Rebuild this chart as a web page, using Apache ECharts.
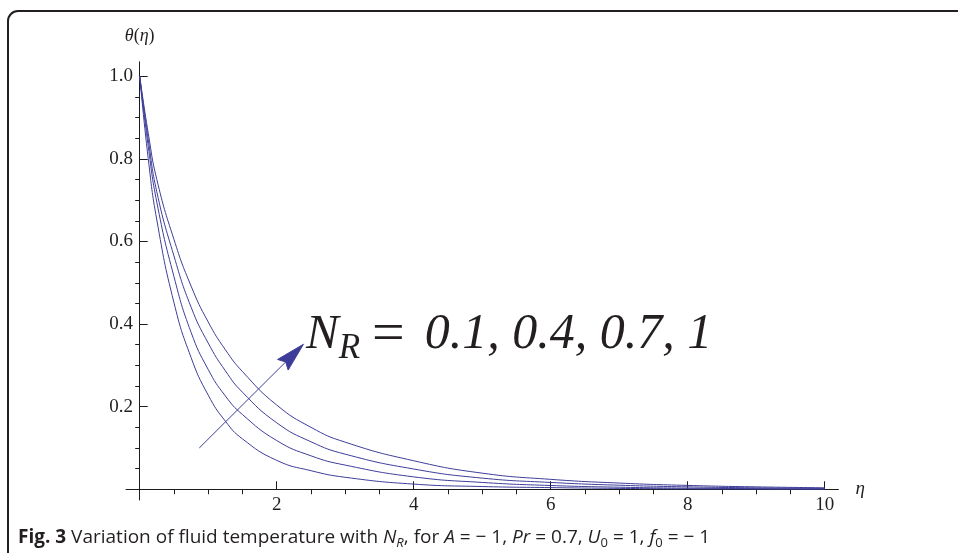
<!DOCTYPE html>
<html>
<head>
<meta charset="utf-8">
<script src="https://cdn.jsdelivr.net/npm/echarts@6/dist/echarts.min.js"></script>
<style>
  html, body { margin: 0; padding: 0; background: #fff; }
  #chart { width: 958px; height: 553px; }
</style>
</head>
<body>
<div id="chart"></div>
<script>
// Similarity variable eta and temperature profiles theta(eta) for each N_R
const eta = [0, 0.125, 0.25, 0.5, 0.75, 1, 1.25, 1.5, 2, 2.5, 3, 4, 5, 6, 7, 8, 9, 10];
const thetaNR01 = [1, 0.800, 0.652, 0.452, 0.319, 0.228, 0.165, 0.122, 0.070, 0.045, 0.029, 0.0125, 0.0066, 0.0040, 0.0021, 0.0011, 0.0006, 0.0003];
const thetaNR04 = [1, 0.830, 0.695, 0.515, 0.380, 0.290, 0.226, 0.181, 0.118, 0.081, 0.0585, 0.030, 0.0165, 0.0091, 0.0050, 0.0027, 0.0015, 0.0008];
const thetaNR07 = [1, 0.847, 0.720, 0.565, 0.441, 0.354, 0.287, 0.235, 0.161, 0.115, 0.085, 0.049, 0.027, 0.0165, 0.0098, 0.0058, 0.0035, 0.0020];
const thetaNR10 = [1, 0.862, 0.750, 0.605, 0.492, 0.405, 0.338, 0.285, 0.204, 0.150, 0.114, 0.069, 0.039, 0.024, 0.015, 0.0093, 0.0058, 0.0036];
const nrLabels = ['0.1', '0.4', '0.7', '1'];

// Tick positions
const xMajorTicks = [2, 4, 6, 8, 10];
const xMinorTicks = [0.5, 1, 1.5, 2.5, 3, 3.5, 4.5, 5, 5.5, 6.5, 7, 7.5, 8.5, 9, 9.5];
const yMajorTicks = [0.2, 0.4, 0.6, 0.8, 1.0];
const yMinorTicks = [0.05, 0.1, 0.15, 0.25, 0.3, 0.35, 0.45, 0.5, 0.55, 0.65, 0.7, 0.75, 0.85, 0.9, 0.95];

// Arrow showing the direction of increasing N_R (data coordinates)
const arrowFrom = [0.87, 0.100];
const arrowTo = [2.39, 0.351];

const serif = '"Liberation Serif", "Times New Roman", serif';
const sans = '"Open Sans", "Noto Sans", sans-serif';
const axisColor = '#1c1c1c';
const textColor = '#231f20';
const curveColor = '#3d3d99';

const chart = echarts.init(document.getElementById('chart'), null, { renderer: 'canvas' });

function pairs(xs, ys) { return xs.map((x, i) => [x, ys[i]]); }

function curve(name, ys) {
  return {
    type: 'line', name: name, data: pairs(eta, ys),
    xAxisIndex: 0, yAxisIndex: 0,
    smooth: 0.5, showSymbol: false, silent: true,
    lineStyle: { color: curveColor, width: 1 }
  };
}

const xRange = { min: -0.2, max: 10.2 };
const yRange = { min: -0.026, max: 1.035 };

const option = {
  animation: false,
  grid: { left: 126, right: 119.6, top: 61.8, bottom: 53 },
  xAxis: [
    {
      type: 'value', min: xRange.min, max: xRange.max,
      axisLine: { onZero: true, onZeroAxisIndex: 0, lineStyle: { color: axisColor, width: 1 } },
      axisTick: { inside: true, length: 8, customValues: xMajorTicks, lineStyle: { color: axisColor, width: 1 } },
      axisLabel: { customValues: xMajorTicks, formatter: v => String(v), fontFamily: serif, fontSize: 19, color: textColor, margin: -4 },
      splitLine: { show: false },
      name: 'η', nameLocation: 'end', nameGap: 17,
      nameTextStyle: { fontFamily: serif, fontStyle: 'italic', fontSize: 19, color: textColor, padding: [4, 0, 0, 0] }
    },
    {
      type: 'value', min: xRange.min, max: xRange.max,
      axisLine: { show: false, onZero: true, onZeroAxisIndex: 0 },
      axisTick: { inside: true, length: 5, customValues: xMinorTicks, lineStyle: { color: axisColor, width: 1 } },
      axisLabel: { show: false },
      splitLine: { show: false }
    }
  ],
  yAxis: [
    {
      type: 'value', min: yRange.min, max: yRange.max,
      axisLine: { onZero: true, onZeroAxisIndex: 0, lineStyle: { color: axisColor, width: 1 } },
      axisTick: { inside: true, length: 8, customValues: yMajorTicks, lineStyle: { color: axisColor, width: 1 } },
      axisLabel: { customValues: yMajorTicks, formatter: v => v.toFixed(1), fontFamily: serif, fontSize: 19, color: textColor, margin: -7 },
      splitLine: { show: false },
      name: '{i|θ}{p|(}{i|η}{p|)}', nameLocation: 'end', nameGap: 17,
      nameTextStyle: {
        rich: {
          i: { fontFamily: serif, fontStyle: 'italic', fontSize: 18, color: textColor },
          p: { fontFamily: serif, fontSize: 18, color: textColor }
        }
      }
    },
    {
      type: 'value', min: yRange.min, max: yRange.max,
      axisLine: { show: false, onZero: true, onZeroAxisIndex: 0 },
      axisTick: { inside: true, length: 4.5, customValues: yMinorTicks, lineStyle: { color: axisColor, width: 1 } },
      axisLabel: { show: false },
      splitLine: { show: false }
    }
  ],
  series: [
    curve('N_R = ' + nrLabels[0], thetaNR01),
    curve('N_R = ' + nrLabels[1], thetaNR04),
    curve('N_R = ' + nrLabels[2], thetaNR07),
    curve('N_R = ' + nrLabels[3], thetaNR10)
  ]
};
chart.setOption(option);

// Lay out a row of text runs on a shared baseline, measuring each run's advance
const measureCtx = document.createElement('canvas').getContext('2d');
function layoutRuns(x, baseline, runs) {
  const out = [];
  let cx = x;
  runs.forEach(r => {
    const style = r.style || 'normal';
    const weight = r.weight || 'normal';
    measureCtx.font = style + ' ' + weight + ' ' + r.size + 'px ' + r.family;
    measureCtx.textBaseline = 'alphabetic';
    const m = measureCtx.measureText(r.text);
    const mid = (m.fontBoundingBoxAscent - m.fontBoundingBoxDescent) / 2;
    cx += r.pre || 0;
    out.push({
      type: 'text', silent: true,
      style: {
        x: cx, y: baseline + (r.dy || 0) - mid, text: r.text,
        fontFamily: r.family, fontSize: r.size, fontStyle: style, fontWeight: weight,
        fill: r.color || textColor, align: 'left', verticalAlign: 'middle'
      }
    });
    cx += m.width + (r.gap || 0);
  });
  return out;
}

// Arrow geometry in pixels
const p0 = chart.convertToPixel({ gridIndex: 0 }, arrowFrom);
const p1 = chart.convertToPixel({ gridIndex: 0 }, arrowTo);
const dx = p1[0] - p0[0], dy = p1[1] - p0[1];
const len = Math.hypot(dx, dy);
const ux = dx / len, uy = dy / len, nx = -uy, ny = ux;
const headLen = 29, headHalf = 7.5, notch = 25;
const base = [p1[0] - ux * headLen, p1[1] - uy * headLen];
const notchPt = [p1[0] - ux * notch, p1[1] - uy * notch];

const labelRuns = [
  { text: 'N', family: serif, size: 49, style: 'italic' },
  { text: 'R', family: serif, size: 35, style: 'italic', dy: 8 },
  { text: '=', family: serif, size: 58, pre: 12, gap: 20, dy: 3 },
  { text: nrLabels.join(', '), family: serif, size: 50, style: 'italic' }
];

const captionRuns = [
  { text: 'Fig. 3', family: sans, size: 19, weight: 'bold' },
  { text: ' Variation of fluid temperature with ', family: sans, size: 19 },
  { text: 'N', family: sans, size: 19, style: 'italic' },
  { text: 'R', family: sans, size: 13, style: 'italic', dy: 3 },
  { text: ', for ', family: sans, size: 19 },
  { text: 'A', family: sans, size: 19, style: 'italic' },
  { text: ' = − 1, ', family: sans, size: 19 },
  { text: 'Pr', family: sans, size: 19, style: 'italic' },
  { text: ' = 0.7, ', family: sans, size: 19 },
  { text: 'U', family: sans, size: 19, style: 'italic' },
  { text: '0', family: sans, size: 13, dy: 3 },
  { text: ' = 1, ', family: sans, size: 19 },
  { text: 'f', family: sans, size: 19, style: 'italic' },
  { text: '0', family: sans, size: 13, dy: 3 },
  { text: ' = − 1', family: sans, size: 19 }
];

chart.setOption({
  graphic: [
    {
      type: 'rect', silent: true,
      shape: { x: 8, y: 11, width: 1000, height: 700, r: 10 },
      style: { fill: 'none', stroke: textColor, lineWidth: 2 }
    },
    {
      type: 'line', silent: true,
      shape: { x1: p0[0], y1: p0[1], x2: notchPt[0], y2: notchPt[1] },
      style: { stroke: curveColor, lineWidth: 1 }
    },
    {
      type: 'polygon', silent: true,
      shape: { points: [p1, [base[0] + nx * headHalf, base[1] + ny * headHalf], notchPt, [base[0] - nx * headHalf, base[1] - ny * headHalf]] },
      style: { fill: curveColor, stroke: curveColor, lineWidth: 1 }
    }
  ].concat(layoutRuns(306, 352, labelRuns), layoutRuns(18, 545, captionRuns))
});
</script>
</body>
</html>
